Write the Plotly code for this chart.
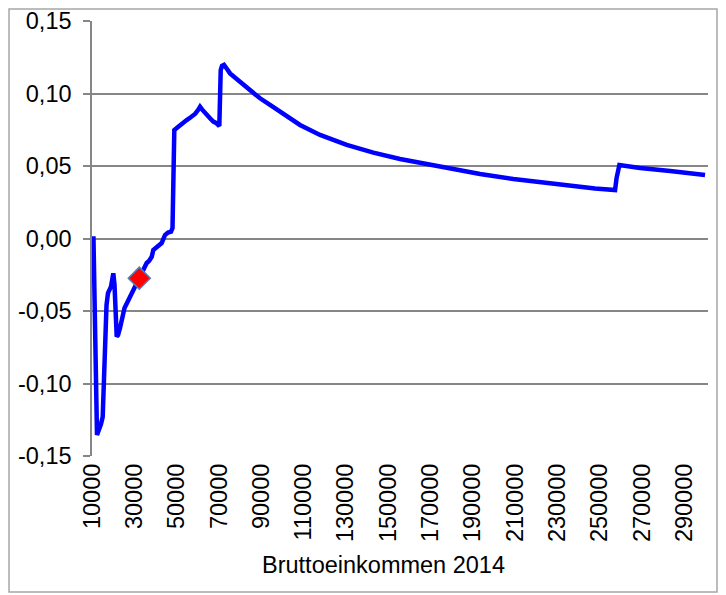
import plotly.graph_objects as go

# Bruttoeinkommen (EUR) und relative Veraenderung
income = [10000, 10700, 12360, 13300, 14250, 15060, 15670, 16380, 16860, 17560,
          18980, 20070, 20640, 21680, 22290, 23240, 24180, 25370, 26550, 27970,
          29530, 30800, 32360, 34110, 35860, 36950, 38230, 38980, 40730, 42950,
          43570, 44510, 45930, 47350, 48060, 48910, 50660, 52410, 54770, 56810,
          58700, 60120, 61060, 62010, 63430, 64840, 65790, 67350, 68630, 70190,
          70850, 71460, 72410, 73830, 75250, 79970, 84700, 89430, 94160, 98890,
          108340, 117800, 130420, 143000, 155620, 168240, 180850, 193450, 209200, 224980,
          236000, 247800, 257270, 257980, 259300, 269100, 283300, 299800]
change = [0.0000, 0.0000, -0.1355, -0.1320, -0.1280, -0.1230, -0.0976, -0.0630, -0.0460, -0.0376,
          -0.0332, -0.0240, -0.0320, -0.0677, -0.0666, -0.0617, -0.0548, -0.0480, -0.0445, -0.0403,
          -0.0355, -0.0307, -0.0274, -0.0217, -0.0169, -0.0155, -0.0126, -0.0079, -0.0059, -0.0031,
          -0.0010, 0.0024, 0.0041, 0.0047, 0.0072, 0.0748, 0.0769, 0.0794, 0.0817, 0.0838,
          0.0859, 0.0886, 0.0909, 0.0890, 0.0863, 0.0838, 0.0829, 0.0806, 0.0797, 0.0776,
          0.1162, 0.1190, 0.1197, 0.1169, 0.1139, 0.1081, 0.1024, 0.0967, 0.0921, 0.0874,
          0.0783, 0.0714, 0.0645, 0.0592, 0.0548, 0.0514, 0.0477, 0.0445, 0.0410, 0.0381,
          0.0362, 0.0345, 0.0334, 0.0417, 0.0507, 0.0486, 0.0466, 0.0438]

marker_income = [32360]
marker_change = [-0.0274]

x_ticks = list(range(10000, 300000, 20000))
x_labels = [str(v) for v in x_ticks]
y_ticks = [-0.15, -0.10, -0.05, 0.0, 0.05, 0.10, 0.15]
y_labels = ['-0,15', '-0,10', '-0,05', '0,00', '0,05', '0,10', '0,15']

grid = '#868686'
font = dict(family='Liberation Sans, Arial, sans-serif', size=23.5, color='black')
x_range = [10000, 301200]

fig = go.Figure()

fig.add_trace(go.Scatter(
    x=income, y=change,
    mode='lines',
    line=dict(color='#0000ff', width=4.5),
    hoverinfo='skip'
))

fig.add_trace(go.Scatter(
    x=marker_income, y=marker_change,
    mode='markers',
    marker=dict(symbol='diamond', size=17, color='#ff0000',
                line=dict(color='#4f81bd', width=1.5)),
    hoverinfo='skip'
))

# page body has an 8px margin, so the figure is 8px smaller and margins shifted
fig.update_layout(
    width=718, height=587,
    margin=dict(l=84, r=18, t=13, b=139),
    paper_bgcolor='white',
    plot_bgcolor='white',
    showlegend=False,
    font=font,
    xaxis=dict(
        range=x_range,
        tickvals=x_ticks, ticktext=x_labels,
        tickangle=-90,
        ticks='',
        ticklabelstandoff=2,
        showgrid=False, zeroline=False, showline=False,
        automargin=False,
        fixedrange=True
    ),
    xaxis2=dict(
        range=x_range,
        overlaying='x',
        anchor='free', position=0.5,
        side='bottom',
        tickvals=x_ticks,
        ticks='outside', ticklen=6, tickwidth=1.5, tickcolor=grid,
        showticklabels=False,
        showgrid=False, zeroline=False, showline=False,
        fixedrange=True
    ),
    yaxis=dict(
        range=[-0.15, 0.15],
        tickvals=y_ticks, ticktext=y_labels,
        ticks='outside', ticklen=7, tickwidth=1.5, tickcolor=grid,
        ticklabelstandoff=7,
        showgrid=True, gridcolor=grid, gridwidth=1.5,
        zeroline=False,
        showline=True, linecolor=grid, linewidth=1.5,
        automargin=False,
        fixedrange=True
    ),
    annotations=[dict(
        text='Bruttoeinkommen 2014',
        xref='paper', yref='paper',
        x=0.474, y=-0.2506,
        xanchor='center', yanchor='middle',
        showarrow=False, font=font
    )],
    shapes=[dict(
        type='rect', xref='paper', yref='paper',
        x0=-0.1347, x1=1.0146, y0=-0.3126, y1=1.0276,
        line=dict(color='#a6a6a6', width=1.5),
        layer='below'
    )]
)

fig.write_html("out.html")
